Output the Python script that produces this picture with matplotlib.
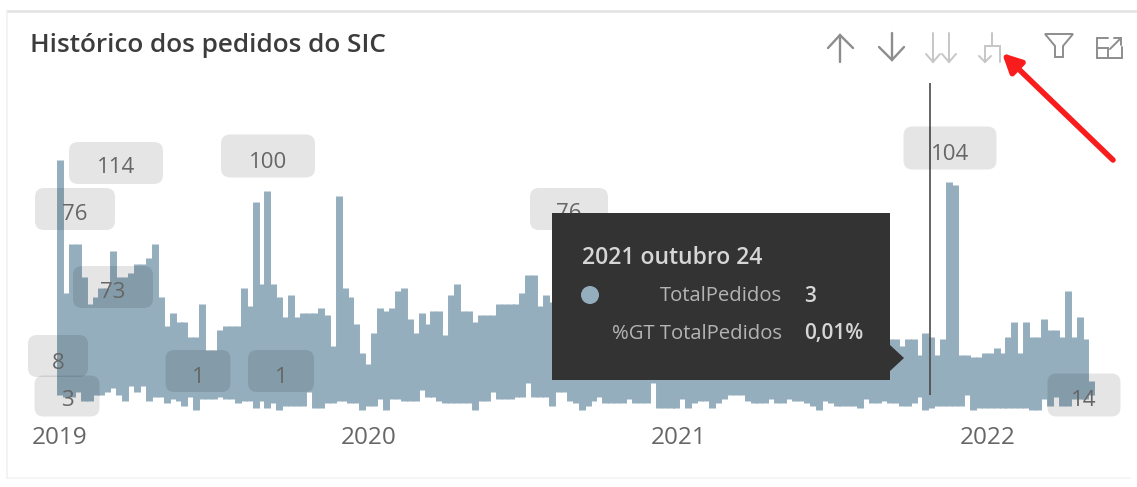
import matplotlib
matplotlib.use("Agg")
import matplotlib.pyplot as plt
import matplotlib.dates as mdates
import pandas as pd
from matplotlib.patches import FancyBboxPatch, FancyArrowPatch, Polygon, Circle, Rectangle

# weekly highest / lowest order counts
weekly_max = [
    114, 54, 76, 76, 61, 49, 52, 56, 56, 73,
    61, 61, 63, 67, 67, 70, 76, 52, 39, 45,
    41, 41, 34, 34, 49, 28, 28, 37, 39, 39,
    39, 56, 48, 95, 58, 100, 58, 52, 43, 53,
    43, 45, 45, 45, 47, 44, 30, 98, 56, 52,
    40, 27, 22, 36, 47, 46, 47, 55, 56, 42,
    36, 45, 40, 46, 46, 35, 53, 58, 46, 46,
    41, 44, 44, 44, 49, 49, 49, 49, 54, 62,
    62, 48, 53, 50, 47, 52, 46, 44, 49, 58,
    50, 76, 48, 45, 51, 47, 44, 49, 53, 46,
    42, 47, 51, 45, 43, 48, 44, 50, 46, 41,
    45, 49, 43, 40, 46, 42, 38, 44, 47, 41,
    38, 43, 40, 36, 42, 45, 39, 37, 41, 38,
    35, 40, 44, 37, 34, 39, 36, 33, 37, 34,
    33, 33, 30, 33, 33, 26, 36, 34, 26, 33,
    104, 103, 26, 26, 25, 25, 27, 27, 29, 27,
    34, 41, 27, 41, 34, 34, 42, 37, 37, 34,
    55, 34, 43, 33, 14,
]
weekly_min = [
    8, 7, 7, 9, 5, 5, 8, 8, 9, 11,
    8, 5, 12, 9, 12, 5, 7, 7, 4, 6,
    5, 3, 7, 1, 6, 6, 6, 7, 6, 6,
    4, 5, 5, 2, 5, 2, 4, 1, 3, 3,
    3, 3, 9, 2, 2, 4, 4, 5, 5, 4,
    4, 1, 3, 3, 6, 1, 6, 6, 5, 5,
    5, 10, 7, 7, 5, 4, 4, 4, 4, 4,
    1, 5, 5, 9, 6, 6, 6, 7, 7, 13,
    7, 7, 7, 3, 9, 9, 5, 4, 1, 3,
    5, 7, 4, 4, 4, 4, 6, 4, 4, 4,
    13, 2, 2, 2, 2, 6, 2, 4, 5, 5,
    2, 4, 6, 8, 8, 8, 5, 4, 4, 4,
    6, 4, 4, 6, 5, 5, 4, 3, 1, 5,
    4, 3, 3, 3, 3, 2, 6, 4, 4, 5,
    4, 4, 3, 3, 4, 7, 1, 2, 3, 3,
    3, 3, 3, 8, 1, 2, 2, 2, 2, 2,
    2, 2, 2, 2, 1, 1, 6, 3, 7, 3,
    3, 6, 6, 6, 8,
]
years = [2019, 2020, 2021, 2022]
selected_date = "2021-10-24"

# data labels: text, centre x, text y, box centre y, box width, box height
point_labels = [
    ("114", 116, 165, 163, 94, 42),
    ("76", 75, 212, 209, 80, 42),
    ("73", 113, 290, 287, 80, 42),
    ("8", 58, 361, 356, 60, 42),
    ("3", 67, 398, 396, 65, 41),
    ("1", 198, 375, 371, 65, 42),
    ("1", 281, 375, 371, 66, 42),
    ("100", 268, 160, 156, 94, 43),
    ("76", 569, 211, 209, 78, 42),
    ("104", 950, 152, 148, 93, 43),
    ("14", 1084, 398, 395, 73, 43),
]

W, H = 1137, 487
FILL = "#94aebe"
TEXT = "#666666"
plt.rcParams["font.family"] = ["Open Sans", "DejaVu Sans"]

fig = plt.figure(figsize=(W / 100, H / 100), dpi=100, facecolor="white")

# chart axes, 30..1130 px wide and 83..416 px down the figure
ax = fig.add_axes([30 / W, 1 - 416 / H, 1100 / W, 333 / H])
ax.patch.set_alpha(0)
dates = pd.date_range("2019-01-01", periods=len(weekly_max), freq="7D")
ax.vlines(dates, weekly_min, weekly_max, color=FILL, linewidth=5, capstyle="butt")
ax.vlines(pd.Timestamp(selected_date), 8, 149, color="#4a4a4a", linewidth=1.2)

t0 = mdates.date2num(pd.Timestamp("2019-01-01"))
px_per_day = 309.3 / 365.25
ax.set_xlim(t0 - 30 / px_per_day, t0 + 1070 / px_per_day)
ax.set_ylim(-1.72, 149)
ax.set_xticks([pd.Timestamp(f"{y}-01-01") for y in years])
ax.set_xticklabels([str(y) for y in years], fontsize=17.5, color=TEXT)
ax.tick_params(axis="x", length=0, pad=7)
ax.set_yticks([])
for s in ax.spines.values():
    s.set_visible(False)

# overlay in pixel coordinates for the card, labels, tooltip and icons
ov = fig.add_axes([0, 0, 1, 1])
ov.set_xlim(0, W)
ov.set_ylim(H, 0)
ov.axis("off")
ov.patch.set_alpha(0)

# card edges
ov.plot([7, 1137], [11, 11], color="#e2e2e2", lw=1.8)
ov.plot([7, 7], [11, 478], color="#f1f1f1", lw=1.2)
ov.plot([7, 1130], [478, 478], color="#f3f3f3", lw=1.2)

ov.text(30, 46, "Histórico dos pedidos do SIC", fontsize=18.8, fontweight="semibold",
        color="#3c3c3c", va="center", ha="left")

for txt, cx, ty, by, bw, bh in point_labels:
    ov.add_patch(FancyBboxPatch((cx - bw / 2 + 8, by - bh / 2 + 8), bw - 16, bh - 16,
                                boxstyle="round,pad=8,rounding_size=9", linewidth=0,
                                facecolor="black", alpha=0.1))
    ov.text(cx, ty, txt, fontsize=16, color=TEXT, ha="center", va="center_baseline")

# tooltip
ov.add_patch(Rectangle((552, 213), 338, 167, facecolor="#333333", edgecolor="none", zorder=5))
ov.add_patch(Polygon([(890, 345), (904, 358), (890, 371)], facecolor="#333333",
                     edgecolor="none", zorder=5))
ov.text(582, 258, "2021 outubro 24", fontsize=16.5, fontweight="semibold", color="#d6d6d6",
        va="center", zorder=6)
ov.add_patch(Circle((590, 295), 9, facecolor=FILL, edgecolor="none", zorder=6))
ov.text(782, 296, "TotalPedidos", fontsize=14.6, color="#b4b4b4", ha="right", va="center", zorder=6)
ov.text(804, 296, "3", fontsize=15, fontweight="semibold", color="#d6d6d6", va="center", zorder=6)
ov.text(782, 334, "%GT TotalPedidos", fontsize=14.6, color="#b4b4b4", ha="right", va="center", zorder=6)
ov.text(804, 334, "0,01%", fontsize=15, fontweight="semibold", color="#d6d6d6", va="center", zorder=6)


def icon(xs, ys, color, lw=1.4):
    ov.plot(xs, ys, color=color, lw=lw, solid_capstyle="round", solid_joinstyle="miter")


# toolbar icons
dark, light = "#8d8d8d", "#c6c6c6"
icon([840, 840], [35, 62], dark, 1.7)
icon([828, 840, 853], [48, 35, 48], dark, 1.7)
icon([892, 892], [33, 60], dark, 1.7)
icon([879, 892, 904], [47, 60, 47], dark, 1.7)
for x in (933, 949):
    icon([x, x], [33, 62], light)
    icon([x - 7, x, x + 7], [54, 62, 54], light)
icon([992, 992], [33, 46], light)
icon([985, 985, 1000, 1000], [62, 46, 46, 62], light)
icon([979, 985, 991], [56, 62, 56], light)
ov.add_patch(Polygon([(1045, 34), (1073, 34), (1063, 46), (1063, 57), (1055, 57), (1055, 46)],
                     closed=True, fill=False, edgecolor=dark, linewidth=1.4))
icon([1108, 1097, 1097, 1122, 1122], [38, 38, 58, 58, 47], dark)
icon([1097, 1108, 1108], [48, 48, 58], dark)
icon([1110, 1121], [49, 38], dark)
icon([1114, 1121, 1121], [38, 38, 45], dark)

# red pointer towards the fork icon
ov.add_patch(FancyArrowPatch((1113, 160), (1002, 53), arrowstyle="-|>", mutation_scale=28,
                             linewidth=4, color="#f91c1c", shrinkA=0, shrinkB=0, zorder=7))

fig.savefig("out.png", dpi=100)
